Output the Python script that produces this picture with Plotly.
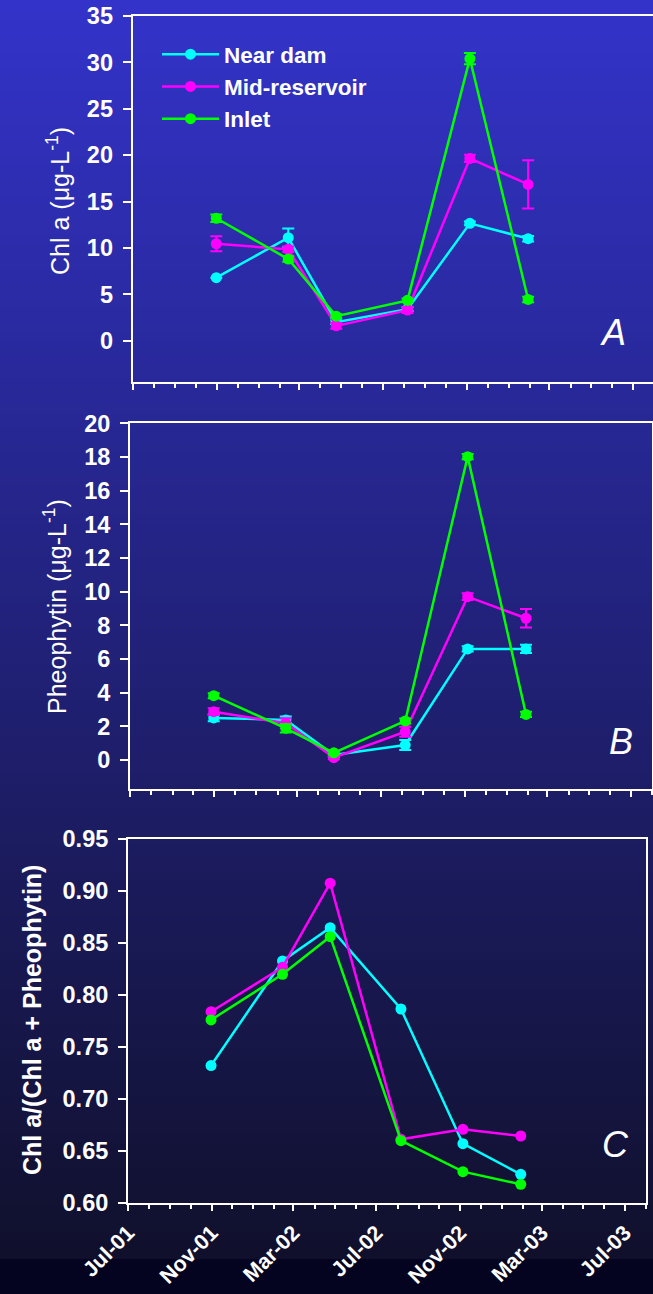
import base64
import struct
import zlib

import plotly.graph_objects as go

# ---------------- data ----------------
dates = ["2001-10-31", "2002-02-13", "2002-04-24", "2002-08-06", "2002-11-05", "2003-01-29"]
series_names = ["Near dam", "Mid-reservoir", "Inlet"]

chl_near = [6.8, 11.1, 2.0, 3.4, 12.65, 11.0]
chl_mid = [10.45, 9.85, 1.6, 3.3, 19.65, 16.85]
chl_inlet = [13.2, 8.8, 2.65, 4.35, 30.4, 4.45]
chl_near_err = [None, 1.0, 0.2, 0.2, 0.2, 0.3]
chl_mid_err = [0.8, 0.3, 0.3, 0.3, 0.4, 2.6]
chl_inlet_err = [0.4, 0.3, 0.2, 0.2, 0.6, 0.3]

pheo_near = [2.5, 2.38, 0.3, 0.89, 6.6, 6.6]
pheo_mid = [2.87, 2.18, 0.14, 1.68, 9.7, 8.42]
pheo_inlet = [3.82, 1.88, 0.43, 2.32, 18.02, 2.71]
pheo_near_err = [0.2, 0.2, 0.1, 0.3, 0.15, 0.25]
pheo_mid_err = [0.2, 0.3, 0.1, 0.3, 0.2, 0.55]
pheo_inlet_err = [0.15, 0.25, 0.1, 0.15, 0.15, 0.15]

ratio_near = [0.732, 0.8326, 0.8647, 0.7864, 0.6568, 0.6273]
ratio_mid = [0.7838, 0.8266, 0.9075, 0.661, 0.6706, 0.6642]
ratio_inlet = [0.7759, 0.8198, 0.856, 0.6597, 0.6299, 0.6177]

y_titles = ["Chl a (μg-L<sup>-1</sup>)", "Pheophytin (μg-L<sup>-1</sup>)", "<b>Chl a/(Chl a + Pheophytin)</b>"]
panel_letters = ["A", "B", "C"]

colors = ["#00FFFF", "#FF00FF", "#00FF00"]

# ---------------- background gradient (PNG) ----------------
W, H = 653, 1294


def make_png(width, height, rows):
    def chunk(tag, data):
        c = struct.pack(">I", len(data)) + tag + data
        return c + struct.pack(">I", zlib.crc32(tag + data) & 0xFFFFFFFF)
    raw = b"".join(b"\x00" + bytes(r) for r in rows)
    return (b"\x89PNG\r\n\x1a\n" + chunk(b"IHDR", struct.pack(">IIBBBBB", width, height, 8, 2, 0, 0, 0))
            + chunk(b"IDAT", zlib.compress(raw, 9)) + chunk(b"IEND", b""))


top_c = (51, 51, 202)
bot_c = (16, 16, 44)
band_c = (4, 4, 32)
rows = []
for yy in range(H):
    if yy < 1259:
        t = yy / 1258.0
        c = [round(top_c[k] + (bot_c[k] - top_c[k]) * t) for k in range(3)]
    else:
        c = list(band_c)
    rows.append(c * 4)
png_uri = "data:image/png;base64," + base64.b64encode(make_png(4, H, rows)).decode()

# ---------------- figure ----------------
FONT = "Liberation Sans, Arial, sans-serif"
fig = go.Figure()

panels = [
    ([chl_near, chl_mid, chl_inlet], [chl_near_err, chl_mid_err, chl_inlet_err]),
    ([pheo_near, pheo_mid, pheo_inlet], [pheo_near_err, pheo_mid_err, pheo_inlet_err]),
    ([ratio_near, ratio_mid, ratio_inlet], [None, None, None]),
]

for p, (vals, errs) in enumerate(panels):
    suffix = "" if p == 0 else str(p + 1)
    for s in range(3):
        kw = {}
        if errs[s] is not None:
            kw["error_y"] = dict(type="data", array=errs[s], visible=True, color=colors[s],
                                 thickness=2, width=6)
        fig.add_trace(go.Scatter(
            x=dates, y=vals[s], name=series_names[s], mode="lines+markers",
            line=dict(color=colors[s], width=2.5),
            marker=dict(color=colors[s], size=11, symbol="circle"),
            showlegend=(p == 0), xaxis="x" + suffix, yaxis="y" + suffix, **kw))


def px_x(v):
    return v / W


def px_y(v):
    return 1 - v / H


x_domains = [[px_x(132.7), 1.0], [px_x(130), px_x(652.3)], [px_x(128), px_x(646)]]
y_domains = [[px_y(382), px_y(16)], [px_y(789.3), px_y(423.3)], [px_y(1202.7), px_y(839)]]
x_ranges = [["2001-07-01", "2003-07-30 05:00"], ["2001-07-01", "2003-08-01"], ["2001-07-01", "2003-08-01"]]
y_ranges = [[-4.45, 35], [-1.74, 20], [0.6, 0.95]]
y_dticks = [5, 2, 0.05]
y_formats = ["d", "d", ".2f"]
y_mirror = [False, True, True]

layout = dict(
    template="none",
    width=W, height=H, margin=dict(l=0, r=0, t=0, b=0, pad=0, autoexpand=False),
    paper_bgcolor="#10102c", plot_bgcolor="rgba(0,0,0,0)",
    font=dict(family=FONT, color="white"),
    images=[dict(source=png_uri, xref="paper", yref="paper", x=0, y=1, sizex=1, sizey=1,
                 xanchor="left", yanchor="top", sizing="stretch", layer="below")],
    showlegend=True,
    legend=dict(x=px_x(157), y=px_y(33), xanchor="left", yanchor="top",
                bgcolor="rgba(0,0,0,0)", borderwidth=0,
                font=dict(family=FONT, size=22.5, color="white", weight="bold"),
                itemwidth=57, tracegroupgap=0),
)

for p in range(3):
    suffix = "" if p == 0 else str(p + 1)
    layout["xaxis" + suffix] = dict(
        domain=x_domains[p], range=x_ranges[p], type="date", anchor="y" + suffix,
        automargin=False,
        showline=True, linecolor="white", linewidth=2, mirror=True,
        showgrid=False, zeroline=False,
        ticks="outside", ticklen=6, tickwidth=2, tickcolor="white",
        tick0="2001-07-01", dtick="M4", tickformat="%b-%y", tickangle=-45,
        showticklabels=(p == 2), ticklabelstandoff=1,
        tickfont=dict(family=FONT, size=21.5, color="white", weight="bold"),
        minor=dict(dtick="M1", tick0="2001-07-01", ticks="outside", ticklen=4, tickwidth=2,
                   tickcolor="white", showgrid=False),
    )
    layout["yaxis" + suffix] = dict(
        domain=y_domains[p], range=y_ranges[p], anchor="x" + suffix,
        automargin=False,
        showline=True, linecolor="white", linewidth=2, mirror=y_mirror[p],
        showgrid=False, zeroline=False,
        ticks="outside", ticklen=8, tickwidth=2, tickcolor="white",
        tick0=0, dtick=y_dticks[p], tickformat=y_formats[p], ticklabelstandoff=5,
        tickfont=dict(family=FONT, size=23.5, color="white", weight="bold"),
    )

fig.update_layout(**layout)

title_pos = [(58, 201), (55, 607), (32, 1020)]
letter_pos = [(613, 333), (621, 741), (615, 1144)]
for p in range(3):
    fig.add_annotation(text=y_titles[p], xref="paper", yref="paper",
                       x=px_x(title_pos[p][0]), y=px_y(title_pos[p][1]),
                       xanchor="center", yanchor="middle", textangle=-90, showarrow=False,
                       font=dict(family=FONT, size=25, color="white"))
    fig.add_annotation(text="<i>" + panel_letters[p] + "</i>", xref="paper", yref="paper",
                       x=px_x(letter_pos[p][0]), y=px_y(letter_pos[p][1]),
                       xanchor="center", yanchor="middle", showarrow=False,
                       font=dict(family=FONT, size=36, color="white"))

fig.write_html("out.html")
